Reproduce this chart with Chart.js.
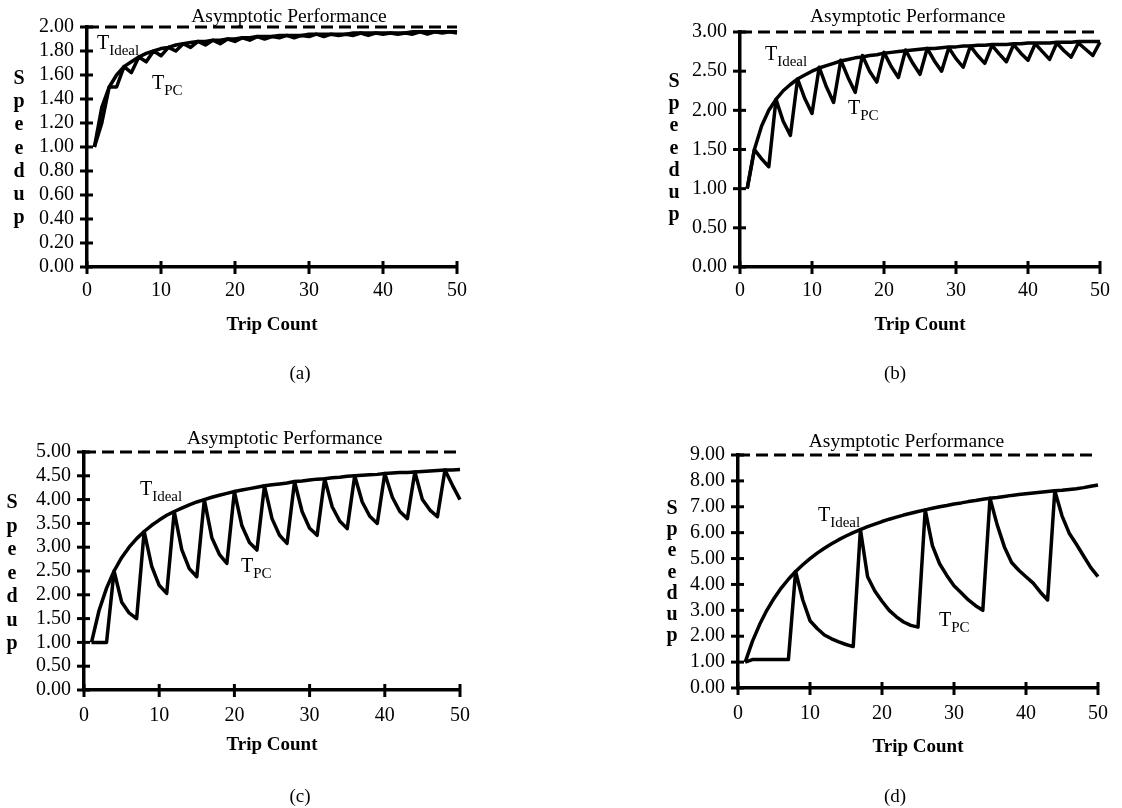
<!DOCTYPE html>
<html lang="en">
<head>
<meta charset="UTF-8">
<title>Speedup vs Trip Count</title>
<style>
  body {
    margin: 0;
    width: 1122px;
    height: 808px;
    background: #fff;
    position: relative;
    overflow: hidden;
    font-family: "Liberation Serif", "Times New Roman", serif;
    color: #000;
  }
  canvas { position: absolute; }
  .ylab {
    position: absolute;
    width: 24px;
    font-weight: bold;
    font-size: 20px;
    text-align: center;
  }
  .tlab {
    position: absolute;
    font-size: 20px;
    line-height: 1;
    white-space: nowrap;
  }
  .tlab sub { font-size: 15px; vertical-align: -6px; }
  .cap {
    position: absolute;
    width: 40px;
    font-size: 19px;
    line-height: 1;
    text-align: center;
  }
</style>
</head>
<body>

<canvas id="chartA" width="560" height="400" style="left:0;top:0"></canvas>
<canvas id="chartB" width="561" height="400" style="left:561px;top:0"></canvas>
<canvas id="chartC" width="560" height="404" style="left:0;top:404px"></canvas>
<canvas id="chartD" width="561" height="404" style="left:561px;top:404px"></canvas>

<!-- stacked y axis titles -->
<div class="ylab" style="left:7px;top:66px;line-height:23.2px">S<br>p<br>e<br>e<br>d<br>u<br>p</div>
<div class="ylab" style="left:662px;top:69px;line-height:22.2px">S<br>p<br>e<br>e<br>d<br>u<br>p</div>
<div class="ylab" style="left:0px;top:490px;line-height:23.5px">S<br>p<br>e<br>e<br>d<br>u<br>p</div>
<div class="ylab" style="left:660px;top:497px;line-height:21.2px">S<br>p<br>e<br>e<br>d<br>u<br>p</div>

<!-- curve labels -->
<div class="tlab" style="left:97px;top:32px">T<sub>Ideal</sub></div>
<div class="tlab" style="left:152px;top:72px">T<sub>PC</sub></div>
<div class="tlab" style="left:765px;top:43px">T<sub>Ideal</sub></div>
<div class="tlab" style="left:848px;top:97px">T<sub>PC</sub></div>
<div class="tlab" style="left:140px;top:478px">T<sub>Ideal</sub></div>
<div class="tlab" style="left:241px;top:555px">T<sub>PC</sub></div>
<div class="tlab" style="left:818px;top:504px">T<sub>Ideal</sub></div>
<div class="tlab" style="left:939px;top:609px">T<sub>PC</sub></div>

<!-- sub-figure captions -->
<div class="cap" style="left:280px;top:363px">(a)</div>
<div class="cap" style="left:875px;top:363px">(b)</div>
<div class="cap" style="left:280px;top:786px">(c)</div>
<div class="cap" style="left:875px;top:786px">(d)</div>

<script src="https://cdn.jsdelivr.net/npm/chart.js"></script>
<script>
    const trips = [1, 2, 3, 4, 5, 6, 7, 8, 9, 10,
        11, 12, 13, 14, 15, 16, 17, 18, 19, 20,
        21, 22, 23, 24, 25, 26, 27, 28, 29, 30,
        31, 32, 33, 34, 35, 36, 37, 38, 39, 40,
        41, 42, 43, 44, 45, 46, 47, 48, 49, 50];
    const xTicks = [0, 10, 20, 30, 40, 50];

    // (a) asymptote 2
    const idealA = [1.00, 1.33, 1.50, 1.60, 1.67, 1.71, 1.75, 1.78, 1.80, 1.82,
        1.83, 1.85, 1.86, 1.87, 1.88, 1.88, 1.89, 1.89, 1.90, 1.90,
        1.91, 1.91, 1.92, 1.92, 1.92, 1.93, 1.93, 1.93, 1.93, 1.94,
        1.94, 1.94, 1.94, 1.94, 1.94, 1.95, 1.95, 1.95, 1.95, 1.95,
        1.95, 1.95, 1.95, 1.96, 1.96, 1.96, 1.96, 1.96, 1.96, 1.96];
    const pcA = [1.00, 1.20, 1.50, 1.50, 1.67, 1.62, 1.75, 1.71, 1.80, 1.76,
        1.83, 1.80, 1.86, 1.83, 1.88, 1.85, 1.89, 1.86, 1.90, 1.88,
        1.91, 1.89, 1.92, 1.90, 1.92, 1.91, 1.93, 1.91, 1.93, 1.92,
        1.94, 1.92, 1.94, 1.93, 1.94, 1.93, 1.95, 1.93, 1.95, 1.94,
        1.95, 1.94, 1.95, 1.94, 1.96, 1.94, 1.96, 1.95, 1.96, 1.95];
    const yTicksA = [0, 0.2, 0.4, 0.6, 0.8, 1.0, 1.2, 1.4, 1.6, 1.8, 2.0];

    // (b) asymptote 3
    const idealB = [1.00, 1.50, 1.80, 2.00, 2.14, 2.25, 2.33, 2.40, 2.45, 2.50,
        2.54, 2.57, 2.60, 2.63, 2.65, 2.67, 2.68, 2.70, 2.71, 2.73,
        2.74, 2.75, 2.76, 2.77, 2.78, 2.79, 2.79, 2.80, 2.81, 2.81,
        2.82, 2.82, 2.83, 2.83, 2.84, 2.84, 2.84, 2.85, 2.85, 2.86,
        2.86, 2.86, 2.86, 2.87, 2.87, 2.87, 2.88, 2.88, 2.88, 2.88];
    const pcB = [1.00, 1.50, 1.38, 1.28, 2.14, 1.86, 1.68, 2.40, 2.15, 1.96,
        2.55, 2.30, 2.10, 2.64, 2.42, 2.23, 2.70, 2.50, 2.36, 2.74,
        2.56, 2.42, 2.77, 2.60, 2.46, 2.79, 2.63, 2.50, 2.80, 2.66,
        2.55, 2.82, 2.70, 2.60, 2.83, 2.72, 2.62, 2.84, 2.73, 2.64,
        2.85, 2.75, 2.65, 2.86, 2.76, 2.68, 2.86, 2.78, 2.70, 2.87];
    const yTicksB = [0, 0.5, 1.0, 1.5, 2.0, 2.5, 3.0];

    // (c) asymptote 5
    const idealC = [1.00, 1.67, 2.14, 2.50, 2.78, 3.00, 3.18, 3.33, 3.46, 3.57,
        3.67, 3.75, 3.82, 3.89, 3.95, 4.00, 4.05, 4.09, 4.13, 4.17,
        4.20, 4.23, 4.26, 4.29, 4.31, 4.33, 4.35, 4.38, 4.39, 4.41,
        4.43, 4.44, 4.46, 4.47, 4.49, 4.50, 4.51, 4.52, 4.53, 4.55,
        4.56, 4.57, 4.57, 4.58, 4.59, 4.60, 4.61, 4.62, 4.62, 4.63];
    const pcC = [1.00, 1.00, 1.00, 2.50, 1.85, 1.62, 1.50, 3.33, 2.60, 2.20,
        2.03, 3.75, 2.95, 2.55, 2.38, 4.00, 3.20, 2.85, 2.66, 4.17,
        3.45, 3.10, 2.94, 4.29, 3.60, 3.25, 3.08, 4.38, 3.75, 3.40,
        3.25, 4.44, 3.85, 3.55, 3.39, 4.50, 3.95, 3.65, 3.50, 4.55,
        4.05, 3.75, 3.60, 4.58, 4.00, 3.78, 3.64, 4.62, 4.30, 4.00];
    const yTicksC = [0, 0.5, 1.0, 1.5, 2.0, 2.5, 3.0, 3.5, 4.0, 4.5, 5.0];

    // (d) asymptote 9
    const idealD = [1.00, 1.80, 2.45, 3.00, 3.46, 3.86, 4.20, 4.50, 4.76, 5.00,
        5.21, 5.40, 5.57, 5.73, 5.87, 6.00, 6.12, 6.23, 6.33, 6.43,
        6.52, 6.60, 6.68, 6.75, 6.82, 6.88, 6.94, 7.00, 7.05, 7.11,
        7.15, 7.20, 7.24, 7.29, 7.33, 7.36, 7.40, 7.44, 7.47, 7.50,
        7.53, 7.56, 7.59, 7.62, 7.64, 7.67, 7.70, 7.74, 7.79, 7.84];
    const pcD = [1.00, 1.10, 1.10, 1.10, 1.10, 1.10, 1.10, 4.50, 3.40, 2.60,
        2.30, 2.05, 1.90, 1.78, 1.68, 1.60, 6.12, 4.30, 3.75, 3.35,
        3.00, 2.75, 2.55, 2.42, 2.35, 6.88, 5.50, 4.80, 4.35, 3.95,
        3.68, 3.40, 3.18, 3.00, 7.33, 6.30, 5.45, 4.85, 4.55, 4.30,
        4.05, 3.70, 3.40, 7.62, 6.65, 5.98, 5.55, 5.10, 4.65, 4.30];
    const yTicksD = [0, 1, 2, 3, 4, 5, 6, 7, 8, 9];

    const serif = '"Liberation Serif", "Times New Roman", serif';

    // crossing tick marks + the "Asymptotic Performance" note
    const frame = {
        id: 'asym',
        afterDraw(chart, args, opts) {
            const { ctx, scales: { x, y } } = chart;
            ctx.save();
            ctx.strokeStyle = '#000';
            ctx.lineWidth = 3;
            x.ticks.forEach(t => {
                const px = x.getPixelForValue(t.value);
                ctx.beginPath();
                ctx.moveTo(px, y.bottom - 6);
                ctx.lineTo(px, y.bottom + 7);
                ctx.stroke();
            });
            y.ticks.forEach(t => {
                const py = y.getPixelForValue(t.value);
                ctx.beginPath();
                ctx.moveTo(x.left - 7, py);
                ctx.lineTo(x.left + 6, py);
                ctx.stroke();
            });
            ctx.font = '19.5px ' + serif;
            ctx.fillStyle = '#000';
            ctx.textAlign = 'center';
            ctx.textBaseline = 'middle';
            ctx.fillText(opts.text, x.getPixelForValue(opts.at), y.getPixelForValue(opts.level) - opts.lift);
            ctx.restore();
        }
    };

    function makeChart(id, cfg) {
        const canvas = document.getElementById(id);
        const W = canvas.width, H = canvas.height;
        const line = { borderColor: '#000', borderWidth: 3.5, pointRadius: 0, tension: 0, borderJoinStyle: 'round', clip: 8 };
        return new Chart(canvas, {
            type: 'line',
            data: {
                datasets: [
                    Object.assign({ data: trips.map((t, i) => ({ x: t, y: cfg.ideal[i] })) }, line),
                    Object.assign({ data: trips.map((t, i) => ({ x: t, y: cfg.pc[i] })) }, line),
                    Object.assign({}, line, {
                        data: [{ x: 0, y: cfg.asym }, { x: 50, y: cfg.asym }],
                        borderWidth: 3, borderDash: [12, 6]
                    })
                ]
            },
            options: {
                responsive: false,
                animation: false,
                events: [],
                layout: {
                    autoPadding: false,
                    padding: { left: 0, top: cfg.area.top, right: W - cfg.area.right, bottom: 0 }
                },
                plugins: {
                    legend: { display: false },
                    tooltip: { enabled: false },
                    asym: { text: 'Asymptotic Performance', at: cfg.textAt, level: cfg.asym, lift: cfg.lift }
                },
                scales: {
                    x: {
                        type: 'linear',
                        min: 0,
                        max: 50,
                        afterBuildTicks: s => { s.ticks = xTicks.map(v => ({ value: v })); },
                        afterFit: s => { s.height = H - cfg.area.bottom; },
                        grid: { display: false, drawTicks: false },
                        border: { color: '#000', width: 3.5 },
                        ticks: { padding: cfg.tickPad, color: '#000', autoSkip: false, maxRotation: 0, font: { family: serif, size: 20 } },
                        title: {
                            display: true,
                            text: 'Trip Count',
                            color: '#000',
                            font: { family: serif, size: 19, weight: 'bold' },
                            padding: { top: 0, bottom: cfg.titlePad }
                        }
                    },
                    y: {
                        min: 0,
                        max: cfg.asym,
                        afterBuildTicks: s => { s.ticks = cfg.yTicks.map(v => ({ value: v })); },
                        afterFit: s => { s.width = cfg.area.left; },
                        grid: { display: false, drawTicks: false },
                        border: { color: '#000', width: 3.5 },
                        ticks: {
                            padding: 13, color: '#000', autoSkip: false,
                            font: { family: serif, size: 20 },
                            callback: v => Number(v).toFixed(2)
                        }
                    }
                }
            },
            plugins: [frame]
        });
    }

    makeChart('chartA', { ideal: idealA, pc: pcA, asym: 2, yTicks: yTicksA,
        area: { left: 87, right: 457, top: 27, bottom: 267 }, tickPad: 12, titlePad: 64, textAt: 27.3, lift: 10 });
    makeChart('chartB', { ideal: idealB, pc: pcB, asym: 3, yTicks: yTicksB,
        area: { left: 179, right: 547, top: 32, bottom: 267 }, tickPad: 12, titlePad: 64, textAt: 23.3, lift: 15 });
    makeChart('chartC', { ideal: idealC, pc: pcC, asym: 5, yTicks: yTicksC,
        area: { left: 84, right: 460, top: 48, bottom: 286 }, tickPad: 14, titlePad: 52, textAt: 26.7, lift: 13 });
    makeChart('chartD', { ideal: idealD, pc: pcD, asym: 9, yTicks: yTicksD,
        area: { left: 177, right: 542, top: 51, bottom: 284 }, tickPad: 14, titlePad: 50, textAt: 23.4, lift: 13 });
</script>
</body>
</html>
